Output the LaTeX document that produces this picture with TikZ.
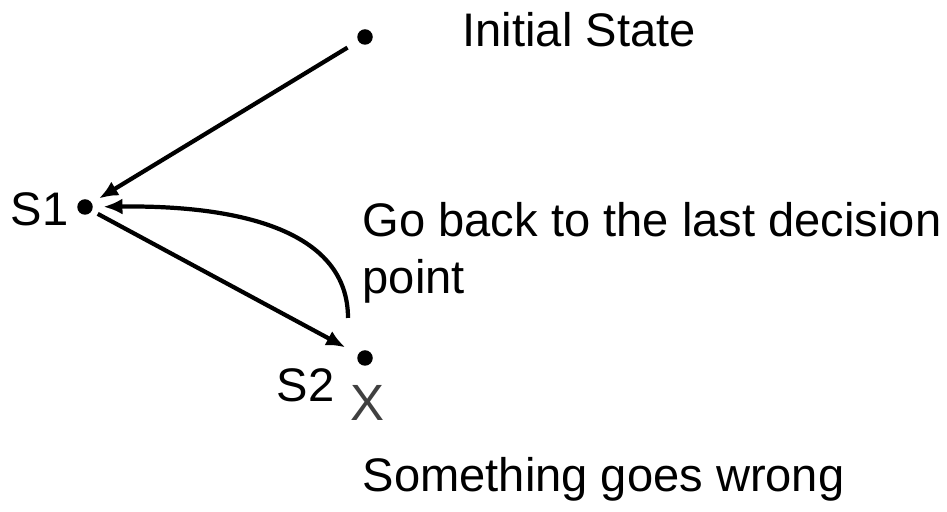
\documentclass[tikz,border=0pt]{standalone}
\usepackage{fontspec}
\setmainfont{Liberation Sans}
\usetikzlibrary{arrows.meta}

\begin{document}
\begin{tikzpicture}[scale = 1,
  dot/.style = {circle, fill = black, inner sep = 0, minimum size = 0.155cm},
  lbl/.style = {black, inner sep = 0, anchor = base west, font = \fontsize{13.4}{16.2}\selectfont},
  arr/.style = {black, line width = 1.2pt, -{Latex[length = 0.19cm, width = 0.16cm]}}]
\useasboundingbox (0, 0) rectangle (9.47, 5.12);
\node[dot] (init) at (3.65, 4.75) {};
\node[dot] (s1) at (0.85, 3.05) {};
\node[dot] (s2) at (3.65, 1.54) {};
\node[lbl] (initlbl) at (4.62, 4.65) {Initial State};
\node[lbl] (s1lbl) at (0.10, 2.86) {S1};
\node[lbl] (s2lbl) at (2.76, 1.10) {S2};
\node[lbl, text = black!75, font = \fontsize{14.5}{17}\selectfont] (fail) at (3.50, 0.91) {X};
\node[lbl, anchor = north west, align = left] (backlbl) at (3.62, 3.10) {Go back to the last decision\\point};
\node[lbl] (wronglbl) at (3.62, 0.20) {Something goes wrong};
\coordinate (turn) at (3.48, 1.94);
\draw[arr, shorten <= 0.12cm, shorten >= 0.08cm] (init) -- (s1);
\draw[arr, shorten <= 0.06cm, shorten >= 0.14cm] (s1) -- (s2);
\draw[arr, shorten >= 0.1cm] (turn) .. controls +(0, 0.85) and +(1.6, 0.02) .. (s1);
\end{tikzpicture}
\end{document}
